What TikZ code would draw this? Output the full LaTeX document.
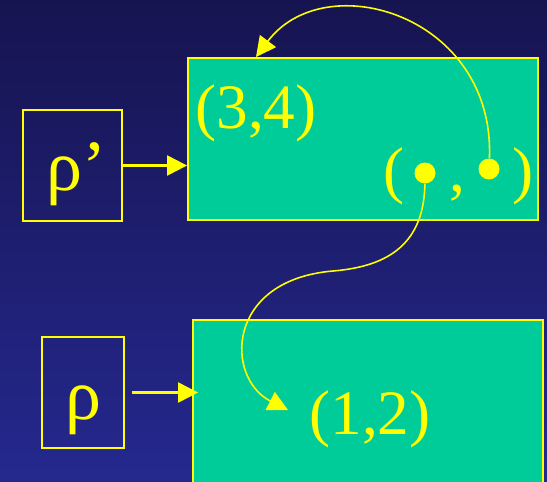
\documentclass[tikz,border=0pt]{standalone}
\usepackage{fontspec}
\setmainfont{Liberation Serif}
\usetikzlibrary{arrows.meta}
\definecolor{bgTop}{RGB}{22, 20, 80}
\definecolor{bgBottom}{RGB}{37, 40, 142}
\definecolor{cellGreen}{RGB}{0, 204, 153}
\definecolor{penYellow}{RGB}{255, 255, 0}

\begin{document}
\begin{tikzpicture}[x=0.02cm, y=-0.02cm,
    cell/.style={draw=penYellow, line width=1.1pt, fill=cellGreen, inner sep=0pt},
    varbox/.style={draw=penYellow, line width=1.1pt, inner sep=0pt},
    val/.style={text=penYellow, inner sep=0pt, anchor=base west, font=\fontsize{36}{40}\selectfont},
    greek/.style={text=penYellow, inner sep=0pt, anchor=base west, font=\fontsize{41}{46}\selectfont},
    link/.style={penYellow, line width=1.3pt, -{Triangle[length=0.4cm, width=0.4cm]}},
    ptr/.style={penYellow, line width=0.9pt, -{Triangle[length=0.4cm, width=0.4cm]}},
    hole/.style={circle, fill=penYellow, minimum size=0.42cm, inner sep=0pt}]
      \useasboundingbox (0,0) rectangle (547,481);
      \clip (0,0) rectangle (547,481);
      \shade[top color=bgTop, bottom color=bgBottom] (0,0) rectangle (547,481);

      % variable boxes
      \node[varbox, minimum width=1.98cm, minimum height=2.22cm] (rhoPBox) at (72.5,165.5) {};
      \node[varbox, minimum width=1.64cm, minimum height=2.22cm] (rhoBox) at (83,392.5) {};
      \node[greek] (rhoP) at (46,190) {ρ’};
      \node[greek] (rho) at (65,419) {ρ};

      % store cells
      \node[cell, minimum width=7cm, minimum height=3.24cm] (topCell) at (363,139) {};
      \node[cell, minimum width=7cm, minimum height=4cm] (botCell) at (368,420) {};
      \node[val] (pairTop) at (195,128) {(3,4)};
      \node[val] (pairBot) at (309,434) {(1,2)};
      \node[val] (pairRef) at (383,191) {(\hspace{0.9cm},\hspace{0.94cm})};
      \node[hole] (holeA) at (425,173) {};
      \node[hole] (holeB) at (489,169) {};

      % arrows into the cells
      \draw[link] (rhoPBox.east) -- (rhoPBox.east -| topCell.west);
      \draw[link] ([xshift=0.14cm]rhoBox.east) -- ([xshift=0.12cm]rhoBox.east -| botCell.west);

      % pointers out of the pair
      \coordinate (topEntry) at (256,57);
      \coordinate (botEntry) at (288,410);
      \coordinate (bend) at (333,271);
      \draw[ptr] (holeB) .. controls (495,15) and (325,-35) .. (topEntry);
      \draw[ptr] (holeA) .. controls (424,250) and (380,267) .. (bend)
                 .. controls (225,280) and (225,378) .. (botEntry);
    \end{tikzpicture}
\end{document}
